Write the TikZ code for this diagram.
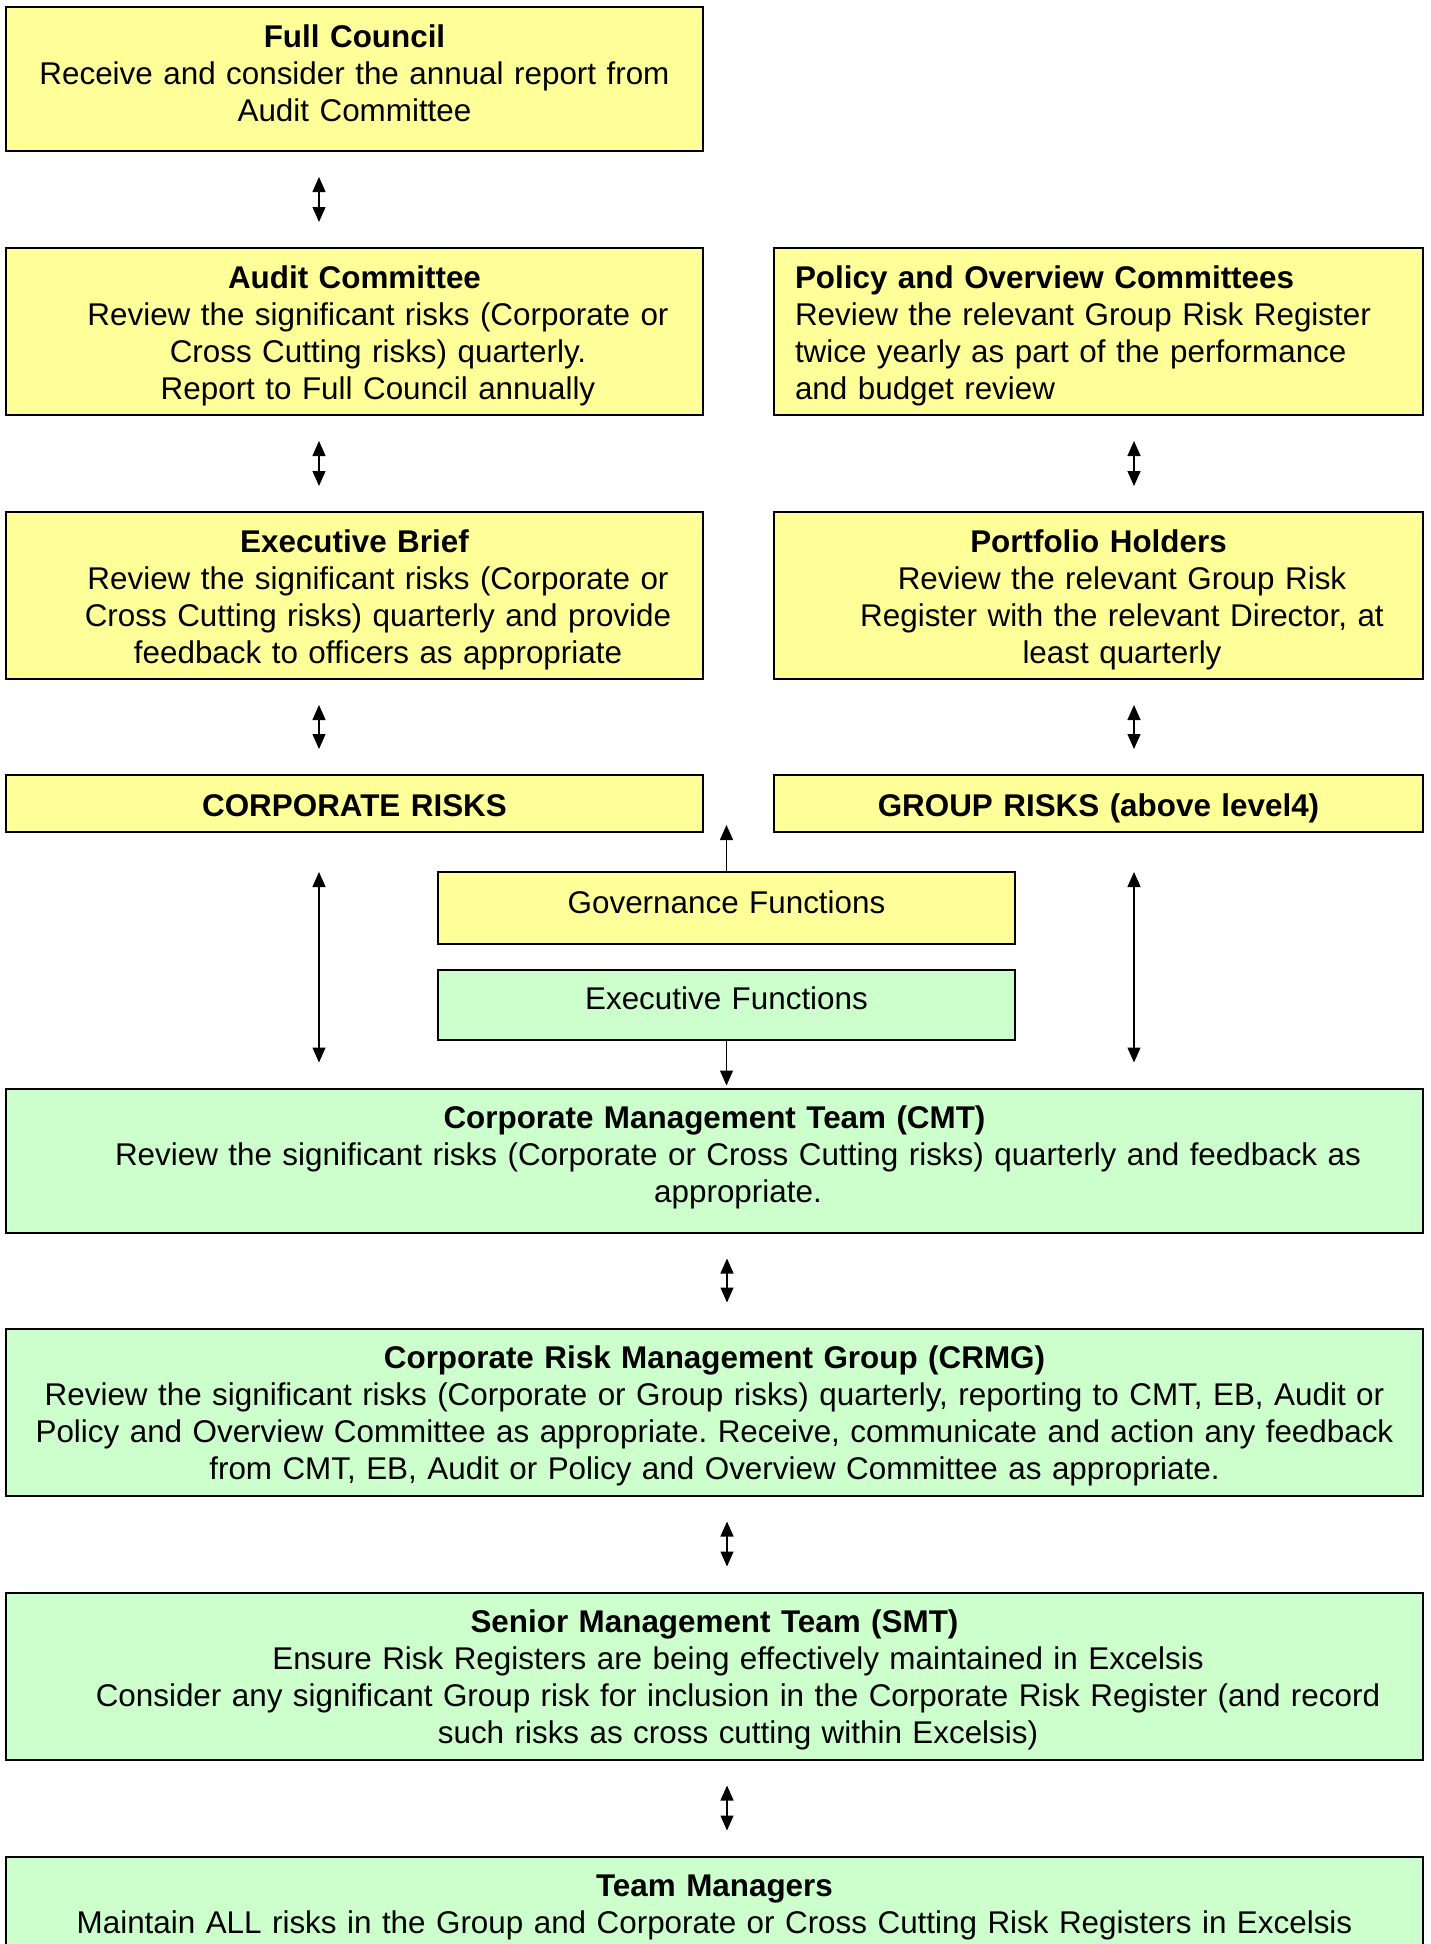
\documentclass[tikz,border=0pt]{standalone}
\usepackage{fontspec}
\setmainfont{Liberation Sans}
\usepackage{xcolor}
\usetikzlibrary{arrows.meta}
\usetikzlibrary{positioning}

\definecolor{govyellow}{RGB}{255,255,153}
\definecolor{exegreen}{RGB}{204,255,204}
\newcommand{\sh}{\hspace*{23.5pt}}
\frenchspacing

\tikzset{
    box/.style = {draw, line width=1pt, inner xsep=0pt, inner ysep=0pt, align=center,
                  font=\fontsize{15.7}{18.5}\selectfont, text height=20pt},
    gov/.style = {box, fill=govyellow},
    exe/.style = {box, fill=exegreen},
    short/.style = {text depth=52pt},
    tall/.style = {text depth=63.5pt},
    thin/.style = {text height=20.5pt, text depth=8pt},
    dbl/.style = {{Triangle[width=6.5pt,length=7.5pt]}-{Triangle[width=6.5pt,length=7.5pt]},
                  line width=0.6pt, shorten <=12.5pt, shorten >=12.5pt},
    sgl/.style = {-{Triangle[width=6.5pt,length=7.5pt]}, line width=0.6pt},
}

\begin{document}
\begin{tikzpicture}[x=0.5pt, y=-0.5pt]
        \useasboundingbox (0,0) rectangle (1430,1944);

        \node [gov, short, text width=348.5pt] (council) at (354.5,79)
            {\textbf{Full Council}\\Receive and consider the annual report from\\Audit Committee};
        \node [gov, tall, text width=348.5pt, below=47.5pt of council] (audit)
            {\textbf{Audit Committee}\\\sh Review the significant risks (Corporate or\\\sh Cross Cutting risks) quarterly.\\\sh Report to Full Council annually};
        \node [gov, tall, text width=348.5pt, below=47.5pt of audit] (brief)
            {\textbf{Executive Brief}\\\sh Review the significant risks (Corporate or\\\sh Cross Cutting risks) quarterly and provide\\\sh feedback to officers as appropriate};
        \node [gov, thin, text width=348.5pt, below=47pt of brief] (corp)
            {\textbf{CORPORATE RISKS}};

        \node [gov, tall, align=left, inner xsep=10.5pt, text width=303.5pt, right=34.5pt of audit] (policy)
            {\textbf{Policy and Overview Committees}\\Review the relevant Group Risk Register\\twice yearly as part of the performance\\and budget review};
        \node [gov, tall, text width=324.5pt, right=34.5pt of brief] (holders)
            {\textbf{Portfolio Holders}\\\sh Review the relevant Group Risk\\\sh Register with the relevant Director, at\\\sh least quarterly};
        \node [gov, thin, text width=324.5pt, right=34.5pt of corp] (group)
            {\textbf{GROUP RISKS (above level4)}};

        \node [gov, text height=20.5pt, text depth=15.5pt, text width=288.5pt] (govfun) at (726.5,908)
            {Governance Functions};
        \node [exe, text height=19.5pt, text depth=15.5pt, text width=288.5pt, below=12pt of govfun] (exefun)
            {Executive Functions};

        \node [exe, short, text width=708.5pt] (cmt) at (714.5,1160.5)
            {\textbf{Corporate Management Team (CMT)}\\\sh Review the significant risks (Corporate or Cross Cutting risks) quarterly and feedback as\\\sh appropriate.};
        \node [exe, tall, text width=708.5pt, below=47pt of cmt] (crmg)
            {\textbf{Corporate Risk Management Group (CRMG)}\\Review the significant risks (Corporate or Group risks) quarterly, reporting to CMT, EB, Audit or\\Policy and Overview Committee as appropriate. Receive, communicate and action any feedback\\from CMT, EB, Audit or Policy and Overview Committee as appropriate.};
        \node [exe, tall, text width=708.5pt, below=47.5pt of crmg] (smt)
            {\textbf{Senior Management Team (SMT)}\\\sh Ensure Risk Registers are being effectively maintained in Excelsis\\\sh Consider any significant Group risk for inclusion in the Corporate Risk Register (and record\\\sh such risks as cross cutting within Excelsis)};
        \node [exe, tall, text width=708.5pt, below=47.5pt of smt] (team)
            {\textbf{Team Managers}\\Maintain ALL risks in the Group and Corporate or Cross Cutting Risk Registers in Excelsis};

        \coordinate (colL) at (319,0);
        \coordinate (colR) at (1134,0);
        \coordinate (colM) at (727,0);
        \coordinate (govtip) at (726.5,825);

        \draw [dbl] (colL |- council.south) -- (colL |- audit.north);
        \draw [dbl] (colL |- audit.south) -- (colL |- brief.north);
        \draw [dbl] (colL |- brief.south) -- (colL |- corp.north);
        \draw [dbl, shorten <=19.5pt] (colL |- corp.south) -- (colL |- cmt.north);

        \draw [dbl] (colR |- policy.south) -- (colR |- holders.north);
        \draw [dbl] (colR |- holders.south) -- (colR |- group.north);
        \draw [dbl, shorten <=19.5pt] (colR |- group.south) -- (colR |- cmt.north);

        \draw [sgl] (govfun.north) -- (govtip);
        \draw [sgl, shorten >=1pt] (exefun.south) -- (exefun.south |- cmt.north);

        \draw [dbl] (colM |- cmt.south) -- (colM |- crmg.north);
        \draw [dbl] (colM |- crmg.south) -- (colM |- smt.north);
        \draw [dbl] (colM |- smt.south) -- (colM |- team.north);
\end{tikzpicture}
\end{document}
